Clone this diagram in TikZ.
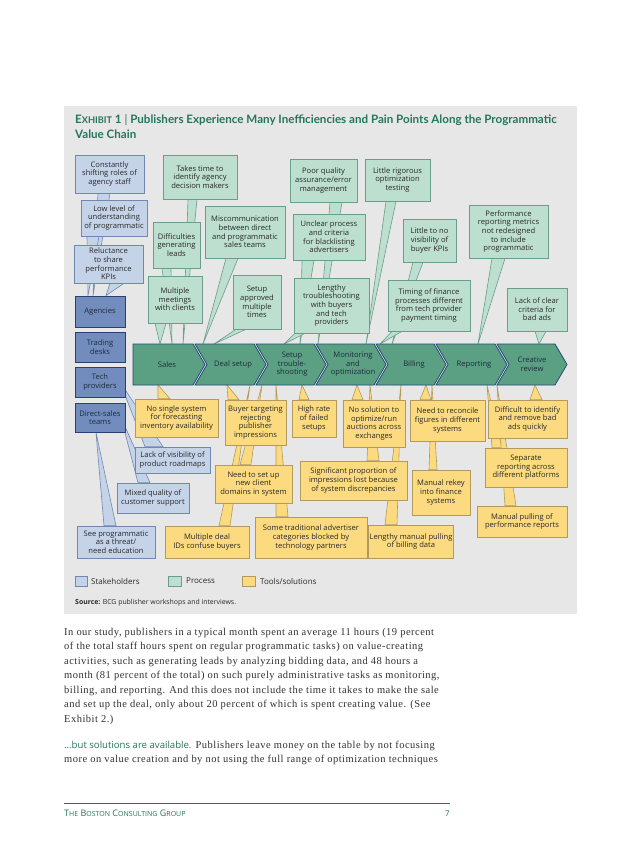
\documentclass[tikz,border=0pt]{standalone}
\usepackage{fontspec}
\setmainfont{Liberation Serif}
\newfontfamily\bodyfont[LetterSpace=4.5]{Liberation Serif}
\newfontfamily\boxfont{Open Sans}
\newfontfamily\titlefont{Lato}
\usetikzlibrary{calc}
\definecolor{panelgray}{RGB}{231,231,231}
\definecolor{bcgteal}{RGB}{36,118,92}
\definecolor{bluefill}{RGB}{197,211,233}
\definecolor{blueline}{RGB}{112,136,176}
\definecolor{sfill}{RGB}{114,140,190}
\definecolor{sline}{RGB}{36,66,116}
\definecolor{gfill}{RGB}{189,223,208}
\definecolor{gline}{RGB}{104,158,138}
\definecolor{cfill}{RGB}{92,160,132}
\definecolor{cline}{RGB}{34,74,114}
\definecolor{yfill}{RGB}{252,219,128}
\definecolor{yline}{RGB}{178,154,92}
\definecolor{txt}{RGB}{40,40,40}
\definecolor{chevtxt}{RGB}{28,44,60}
\definecolor{bodytxt}{RGB}{50,50,50}
\pgfdeclarelayer{panel}
\pgfdeclarelayer{tails}
\pgfsetlayers{panel,tails,main}
\newcommand\bxf{\boxfont\fontsize{7.6}{8.6}\selectfont}
\newcommand\mkbox[7]{\node[#1, minimum width={#5-#3}, minimum height={#6-#4}] (#2) at ({(#3+#5)/2},{(#4+#6)/2}) {#7};}
\newcommand\ctail[5]{\filldraw[#1] (#3,0 |- #2) -- (#4,0 |- #2) -- (#5) -- cycle;}
\begin{document}
\begin{tikzpicture}[x=1pt,y=-1pt,
  every node/.style={inner sep=1pt, text=txt, font=\bxf},
  bluebox/.style={draw=blueline, fill=bluefill, line width=0.6pt, align=center},
  stake/.style={draw=sline, fill=sfill, line width=0.8pt, align=center, text=chevtxt},
  greenbox/.style={draw=gline, fill=gfill, line width=0.6pt, align=center},
  yelbox/.style={draw=yline, fill=yfill, line width=0.6pt, align=center},
  btail/.style={draw=blueline, fill=bluefill, line width=0.6pt, line join=round},
  gtail/.style={draw=gline, fill=gfill, line width=0.6pt, line join=round},
  ytail/.style={draw=yline, fill=yfill, line width=0.6pt, line join=round},
  chev/.style={draw=cline, fill=cfill, line width=0.8pt, line join=miter},
  chevlabel/.style={align=center, text=chevtxt},
  bodyline/.style={anchor=base west, inner sep=0, text=bodytxt, font=\bodyfont\fontsize{10.5}{12}\selectfont}]
\useasboundingbox (0,0) rectangle (638,866);
\begin{pgfonlayer}{panel}
\fill[white] (0,0) rectangle (638,866);
\fill[panelgray] (64,106) rectangle (577,614);
\end{pgfonlayer}

% title
\node[anchor=base west, inner sep=0, text=bcgteal, font=\titlefont\bfseries\fontsize{11.6}{14}\selectfont] (title1) at (75,124)
  {E{\fontsize{9.2}{10}\selectfont XHIBIT} 1 {\mdseries|} Publishers Experience Many Inefficiencies and Pain Points Along the Programmatic};
\node[anchor=base west, inner sep=0, text=bcgteal, font=\titlefont\bfseries\fontsize{11.6}{14}\selectfont] (title2) at (75,139) {Value Chain};

% bar coordinates
\coordinate (bartop) at (0,344);
\coordinate (barbot) at (0,385);

% chevrons
\draw[chev] (133,344) -- (193,344) -- (205,364.5) -- (193,385) -- (133,385) -- cycle;
\foreach \L/\R in {195/254,256/314,316/374,376/434,436/495,497/555}{
  \draw[chev] (\L,344) -- (\R,344) -- (\R+12,364.5) -- (\R,385) -- (\L,385) -- (\L+12,364.5) -- cycle;}
\node[chevlabel] (c1) at (167,364.5) {Sales};
\node[chevlabel] (c2) at (233,364.5) {Deal setup};
\node[chevlabel] (c3) at (292,364.5) {Setup\\trouble-\\shooting};
\node[chevlabel] (c4) at (353,364.5) {Monitoring\\and\\optimization};
\node[chevlabel] (c5) at (414,364.5) {Billing};
\node[chevlabel] (c6) at (474,364.5) {Reporting};
\node[chevlabel] (c7) at (532,364.5) {Creative\\review};

% stakeholders
\mkbox{bluebox}{cs}{75}{155}{144}{193}{Constantly\\shifting roles of\\agency staff}
\mkbox{bluebox}{ll}{81}{200}{147}{236}{Low level of\\understanding\\of programmatic}
\mkbox{bluebox}{rl}{74}{245}{143}{283}{Reluctance\\to share\\performance\\KPIs}
\mkbox{stake}{ag}{75}{296}{125}{327}{Agencies}
\mkbox{stake}{td}{75}{332}{125}{362}{Trading\\desks}
\mkbox{stake}{tp}{75}{367}{125}{397}{Tech\\providers}
\mkbox{stake}{ds}{75}{403}{125}{432}{Direct-sales\\teams}
\mkbox{bluebox}{lv}{135}{447}{210}{473}{Lack of visibility of\\product roadmaps}
\mkbox{bluebox}{mq}{117}{483}{189}{513}{Mixed quality of\\customer support}
\mkbox{bluebox}{sp}{77}{526}{155}{558}{See programmatic\\as a threat/\\need education}

% process
\mkbox{greenbox}{tt}{163}{155}{237}{199}{Takes time to\\identify agency\\decision makers}
\mkbox{greenbox}{dg}{153}{222}{200}{268}{Difficulties\\generating\\leads}
\mkbox{greenbox}{mc}{205}{206}{285}{258}{Miscommunication\\between direct\\and programmatic\\sales teams}
\mkbox{greenbox}{mm}{148}{276}{202}{323}{Multiple\\meetings\\with clients}
\mkbox{greenbox}{sa}{233}{275}{281}{329}{Setup\\approved\\multiple\\times}
\mkbox{greenbox}{pq}{290}{159}{357}{202}{Poor quality\\assurance/error\\management}
\mkbox{greenbox}{lr}{365}{159}{430}{201}{Little rigorous\\optimization\\testing}
\mkbox{greenbox}{uc}{293}{214}{365}{260}{Unclear process\\and criteria\\for blacklisting\\advertisers}
\mkbox{greenbox}{lt}{294}{278}{369}{333}{Lengthy\\troubleshooting\\with buyers\\and tech\\providers}
\mkbox{greenbox}{ln}{403}{219}{456}{262}{Little to no\\visibility of\\buyer KPIs}
\mkbox{greenbox}{tf}{388}{280}{470}{331}{Timing of finance\\processes different\\from tech provider\\payment timing}
\mkbox{greenbox}{pr}{469}{205}{548}{258}{Performance\\reporting metrics\\not redesigned\\to include\\programmatic}
\mkbox{greenbox}{lc}{507}{288}{567}{331}{Lack of clear\\criteria for\\bad ads}

% tools
\mkbox{yelbox}{ns}{135}{399}{218}{437}{No single system\\for forecasting\\inventory availability}
\mkbox{yelbox}{bt}{225}{400}{286}{445}{Buyer targeting\\rejecting\\publisher\\impressions}
\mkbox{yelbox}{hr}{292}{400}{336}{437}{High rate\\of failed\\setups}
\mkbox{yelbox}{no}{343}{400}{405}{447}{No solution to\\optimize/run\\auctions across\\exchanges}
\mkbox{yelbox}{nr}{410}{400}{485}{441}{Need to reconcile\\figures in different\\systems}
\mkbox{yelbox}{di}{488}{400}{567}{438}{Difficult to identify\\and remove bad\\ads quickly}
\mkbox{yelbox}{nd}{215}{465}{292}{503}{Need to set up\\new client\\domains in system}
\mkbox{yelbox}{si}{300}{461}{407}{500}{Significant proportion of\\impressions lost because\\of system discrepancies}
\mkbox{yelbox}{mk}{412}{470}{470}{515}{Manual rekey\\into finance\\systems}
\mkbox{yelbox}{sr}{485}{448}{567}{487}{Separate\\reporting across\\different platforms}
\mkbox{yelbox}{mp}{477}{506}{567}{537}{Manual pulling of\\performance reports}
\mkbox{yelbox}{md}{165}{526}{249}{558}{Multiple deal\\IDs confuse buyers}
\mkbox{yelbox}{st}{255}{517}{367}{558}{Some traditional advertiser\\categories blocked by\\technology partners}
\mkbox{yelbox}{lm}{373}{525}{449}{558}{Lengthy manual pulling\\of billing data}

% tails (behind boxes)
\begin{pgfonlayer}{tails}
\ctail{btail}{cs.south}{98}{110}{93,0 |- ag.north}
\ctail{btail}{ll.south}{87}{99}{88,0 |- ag.north}
\ctail{btail}{rl.south}{110}{124}{106,0 |- ag.north}
\ctail{btail}{lv.north}{145}{163}{120,0 |- tp.east}
\ctail{btail}{mq.north}{138}{150}{121,0 |- ds.east}
\ctail{btail}{sp.north}{104}{116}{96,0 |- ds.south}
\ctail{gtail}{tt.south}{188}{197}{183,0 |- bartop}
\ctail{gtail}{dg.south}{162}{171}{172,0 |- bartop}
\ctail{gtail}{mm.south}{155}{166}{160,0 |- bartop}
\ctail{gtail}{mc.south}{226}{238}{203,0 |- bartop}
\ctail{gtail}{sa.south}{236}{246}{214,0 |- bartop}
\ctail{gtail}{pq.south}{330}{342}{318,0 |- bartop}
\ctail{gtail}{uc.south}{302}{314}{300,0 |- bartop}
\ctail{gtail}{lt.south}{295}{305}{284,0 |- bartop}
\ctail{gtail}{lr.south}{386}{396}{366,0 |- bartop}
\ctail{gtail}{ln.south}{413}{423}{392,0 |- bartop}
\ctail{gtail}{tf.south}{392}{402}{380,0 |- bartop}
\ctail{gtail}{pr.south}{492}{505}{478,0 |- bartop}
\ctail{gtail}{lc.south}{535}{546}{539,0 |- bartop}
\ctail{ytail}{ns.north}{158}{170}{158,0 |- barbot}
\ctail{ytail}{bt.north}{228}{239}{227,0 |- barbot}
\ctail{ytail}{hr.north}{299}{309}{302,0 |- barbot}
\ctail{ytail}{no.north}{352}{363}{357,0 |- barbot}
\ctail{ytail}{nr.north}{420}{431}{426,0 |- barbot}
\ctail{ytail}{di.north}{530}{542}{535,0 |- barbot}
\ctail{ytail}{nd.north}{240}{251}{262,0 |- barbot}
\ctail{ytail}{md.north}{219}{230}{250,0 |- barbot}
\ctail{ytail}{st.north}{276}{288}{276,0 |- barbot}
\ctail{ytail}{si.north}{367}{379}{370,0 |- barbot}
\ctail{ytail}{lm.north}{385}{397}{401,0 |- barbot}
\ctail{ytail}{mk.north}{429}{437}{432,0 |- barbot}
\ctail{ytail}{sr.north}{492}{502}{487,0 |- barbot}
\ctail{ytail}{mp.north}{505}{516}{497,0 |- barbot}
\end{pgfonlayer}

% legend
\node[bluebox, minimum width=12, minimum height=10] (lg1) at (81,581) {};
\node[anchor=west, text=txt, font=\boxfont\fontsize{8}{9}\selectfont] (lt1) at (90,581) {Stakeholders};
\node[greenbox, minimum width=13, minimum height=10] (lg2) at (174.5,581) {};
\node[anchor=west, text=txt, font=\boxfont\fontsize{8}{9}\selectfont] (lt2) at (185,581) {Process};
\node[yelbox, minimum width=13, minimum height=10] (lg3) at (248.5,581) {};
\node[anchor=west, text=txt, font=\boxfont\fontsize{8}{9}\selectfont] (lt3) at (259,581) {Tools/solutions};
\node[anchor=west, inner sep=0, text=txt, font=\boxfont\fontsize{6.9}{8}\selectfont] (src) at (75,603) {\textbf{Source:} BCG publisher workshops and interviews.};

% body text
\node[bodyline] (b1) at (64,635) {In our study, publishers in a typical month spent an average 11 hours (19 percent};
\node[bodyline] (b2) at (64,649.5) {of the total staff hours spent on regular programmatic tasks) on value-creating};
\node[bodyline] (b3) at (64,664) {activities, such as generating leads by analyzing bidding data, and 48 hours a};
\node[bodyline] (b4) at (64,678.5) {month (81 percent of the total) on such purely administrative tasks as monitoring,};
\node[bodyline] (b5) at (64,693) {billing, and reporting. And this does not include the time it takes to make the sale};
\node[bodyline] (b6) at (64,707.5) {and set up the deal, only about 20 percent of which is spent creating value. (See};
\node[bodyline] (b7) at (64,722) {Exhibit 2.)};
\node[bodyline] (b8) at (64,748) {{\boxfont\fontsize{9.6}{11}\selectfont\color{bcgteal}\ldots but solutions are available.} Publishers leave money on the table by not focusing};
\node[bodyline] (b9) at (64,762.5) {more on value creation and by not using the full range of optimization techniques};

% footer
\coordinate (fl) at (64,803);
\coordinate (fr) at (450,803);
\draw[bcgteal, line width=0.7pt] (fl) -- (fr);
\node[anchor=base west, inner sep=0, text=bcgteal, font=\boxfont\fontsize{9}{10}\selectfont] (ft) at (64,816)
  {T{\fontsize{7}{8}\selectfont HE} B{\fontsize{7}{8}\selectfont OSTON} C{\fontsize{7}{8}\selectfont ONSULTING} G{\fontsize{7}{8}\selectfont ROUP}};
\node[anchor=base east, inner sep=0, text=bcgteal, font=\boxfont\fontsize{8}{9}\selectfont] (pg) at (450,816) {7};
\end{tikzpicture}
\end{document}
